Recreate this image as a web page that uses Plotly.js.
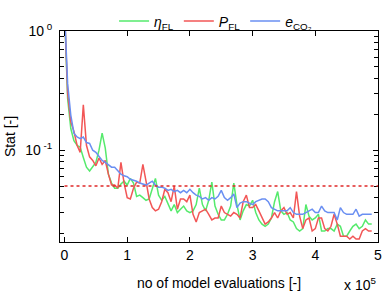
<!DOCTYPE html>
<html>
<head>
<meta charset="utf-8">
<script src="https://cdn.plot.ly/plotly-3.0.1.min.js"></script>
<style>html,body{margin:0;padding:0;background:#fff;}#chart{width:383px;height:293px;}</style>
</head>
<body>
<div id="chart"></div>
<script>
// number of model evaluations
const evaluations = [0,5000,10000,15000,20000,25000,30000,35000,40000,45000,
50000,55000,60000,65000,70000,75000,80000,85000,90000,95000,
100000,105000,110000,115000,120000,125000,130000,135000,140000,145000,
150000,155000,160000,165000,170000,175000,180000,185000,190000,195000,
200000,205000,210000,215000,220000,225000,230000,235000,240000,245000,
250000,255000,260000,265000,270000,275000,280000,285000,290000,295000,
300000,305000,310000,315000,320000,325000,330000,335000,340000,345000,
350000,355000,360000,365000,370000,375000,380000,385000,390000,395000,
400000,405000,410000,415000,420000,425000,430000,435000,440000,445000,
450000,455000,460000,465000,470000,475000,480000,485000,490000];

const etaFL = [1.5,0.27,0.152,0.120,0.110,0.106,0.087,0.072,0.067,0.072,
0.079,0.100,0.139,0.104,0.063,0.053,0.048,0.048,0.052,0.055,
0.051,0.058,0.053,0.041,0.042,0.040,0.038,0.039,0.047,0.058,
0.042,0.038,0.041,0.035,0.031,0.035,0.030,0.032,0.034,0.031,
0.030,0.031,0.035,0.048,0.035,0.031,0.038,0.054,0.034,0.029,
0.026,0.026,0.029,0.034,0.053,0.035,0.026,0.031,0.035,0.034,
0.038,0.030,0.026,0.024,0.023,0.024,0.027,0.037,0.045,0.031,
0.029,0.030,0.026,0.025,0.022,0.021,0.022,0.035,0.028,0.026,
0.027,0.029,0.021,0.021,0.022,0.022,0.021,0.024,0.023,0.019,
0.019,0.021,0.023,0.024,0.022,0.023,0.026,0.024,0.024];

const PFL = [1.5,0.30,0.173,0.144,0.110,0.096,0.24,0.110,0.088,0.082,
0.074,0.086,0.076,0.082,0.063,0.051,0.051,0.048,0.079,0.053,
0.040,0.039,0.048,0.054,0.053,0.076,0.055,0.039,0.033,0.031,
0.032,0.037,0.047,0.044,0.037,0.050,0.032,0.039,0.039,0.037,
0.042,0.029,0.025,0.030,0.031,0.032,0.029,0.026,0.027,0.027,
0.034,0.030,0.029,0.028,0.030,0.029,0.027,0.037,0.042,0.033,
0.033,0.035,0.031,0.027,0.024,0.025,0.027,0.030,0.027,0.031,
0.033,0.029,0.030,0.027,0.045,0.028,0.022,0.026,0.027,0.021,
0.022,0.027,0.027,0.022,0.021,0.023,0.029,0.024,0.019,0.019,
0.019,0.018,0.019,0.018,0.018,0.021,0.022,0.021,0.021];

const eCO2 = [1.5,0.36,0.197,0.139,0.129,0.125,0.129,0.116,0.114,0.100,
0.096,0.088,0.082,0.079,0.076,0.072,0.072,0.067,0.063,0.061,
0.060,0.057,0.056,0.055,0.053,0.052,0.051,0.053,0.055,0.051,
0.049,0.049,0.048,0.046,0.047,0.045,0.046,0.044,0.046,0.044,
0.047,0.044,0.042,0.041,0.039,0.040,0.038,0.040,0.039,0.041,
0.046,0.040,0.038,0.040,0.043,0.033,0.036,0.037,0.037,0.036,
0.035,0.037,0.038,0.039,0.039,0.037,0.033,0.032,0.031,0.031,
0.031,0.031,0.033,0.030,0.029,0.029,0.029,0.030,0.031,0.032,
0.030,0.030,0.034,0.031,0.030,0.030,0.030,0.026,0.033,0.030,
0.029,0.029,0.029,0.032,0.028,0.029,0.029,0.029,0.029];

const threshold = 0.05;
const thresholdRange = [0, 500000];

const xTickVals = [0,100000,200000,300000,400000,500000];
const xTickText = ['0','1','2','3','4','5'];
const yTickVals = [0.1,1];
const yTickText = ['10<sup> -1</sup>\u00a0','10<sup> 0</sup>\u00a0'];
const yMinorVals = [0.02,0.03,0.04,0.05,0.06,0.07,0.08,0.09,0.2,0.3,0.4,0.5,0.6,0.7,0.8,0.9];

const font = {family:'Liberation Sans, Arial, sans-serif', size:14, color:'#000'};

const traces = [
  {x:evaluations, y:etaFL, mode:'lines', name:'<i>η</i><sub>FL</sub>', line:{color:'#55ea6c', width:1.5}},
  {x:evaluations, y:PFL, mode:'lines', name:'<i>P</i><sub>FL</sub>', line:{color:'#f25656', width:1.5}},
  // drawn against the twin log axis (same range) that carries the minor ticks
  {x:evaluations, y:eCO2, yaxis:'y2', mode:'lines', name:'<i>e</i><sub>CO₂</sub>', line:{color:'#6a8ff2', width:1.5}}
];

const layout = {
  width:383, height:293,
  margin:{l:60, r:5, t:19, b:51},
  paper_bgcolor:'#fff', plot_bgcolor:'#fff',
  font:font,
  showlegend:true,
  legend:{orientation:'h', x:0.17, xanchor:'left', y:1.045, yanchor:'middle',
          bgcolor:'rgba(0,0,0,0)', font:font, tracegroupgap:0},
  xaxis:{range:[-7200,500000], tickmode:'array', tickvals:xTickVals, ticktext:xTickText,
         ticks:'inside', ticklen:5, tickwidth:1, tickcolor:'#000',
         showline:true, linecolor:'#000', mirror:'ticks',
         showgrid:false, zeroline:false, tickfont:font,
         title:{text:'no of model evaluations [-]', font:font, standoff:16}},
  yaxis:{type:'log', range:[-1.77,0], tickmode:'array', tickvals:yTickVals, ticktext:yTickText,
         ticks:'inside', ticklen:5, tickwidth:1, tickcolor:'#000',
         showline:true, linecolor:'#000', mirror:'ticks',
         showgrid:false, zeroline:false, tickfont:font,
         title:{text:'Stat [-]', font:font, standoff:6}},
  yaxis2:{type:'log', range:[-1.77,0], overlaying:'y', side:'left', tickmode:'array', tickvals:yMinorVals,
          showticklabels:false, ticks:'inside', ticklen:4, tickwidth:1, tickcolor:'#000',
          showline:true, linecolor:'#000', mirror:'ticks',
          showgrid:false, zeroline:false},
  shapes:[{type:'line', xref:'x', yref:'y', x0:thresholdRange[0], x1:thresholdRange[1], y0:threshold, y1:threshold,
           line:{color:'#e02828', width:1.5, dash:'dot'}}],
  annotations:[{xref:'paper', yref:'paper', x:1.0, y:-0.2, xanchor:'right', yanchor:'middle',
                text:'x 10<sup>5</sup>', showarrow:false, font:font}]
};

Plotly.newPlot('chart', traces, layout, {displayModeBar:false, staticPlot:true});
</script>
</body>
</html>
